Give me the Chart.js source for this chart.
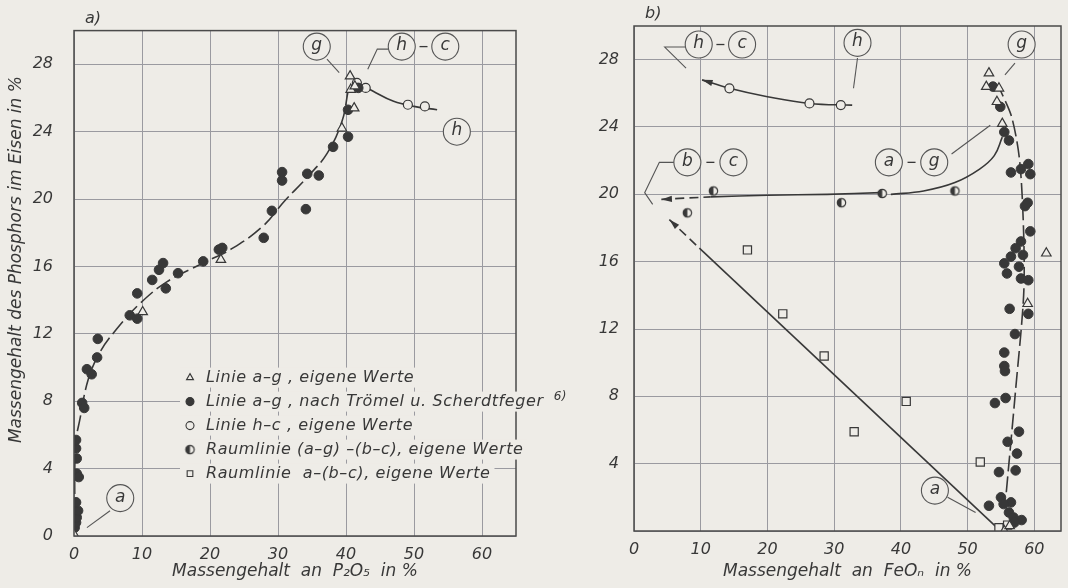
<!DOCTYPE html>
<html>
<head>
<meta charset="utf-8">
<script src="https://cdn.jsdelivr.net/npm/chart.js@4.4.1/dist/chart.umd.min.js"></script>
<style>
    body { margin: 0; background: #eeece7; }
    #wrap { position: relative; width: 1068px; height: 588px; overflow: hidden; }
    canvas { position: absolute; top: 0; }
    #chartA { left: 0; }
    #chartB { left: 534px; }
</style>
</head>
<body>
<div id="wrap">
    <canvas id="chartA" width="600" height="588"></canvas>
    <canvas id="chartB" width="534" height="588"></canvas>
</div>
<script>
// ---- data, panel a (x = P2O5 %, y = P in Fe %) ----
const aTriangles = [[0, 0.1], [10.1, 13.3], [21.6, 16.4], [39.4, 24.2], [41.2, 25.4], [40.7, 26.5], [41.3, 26.7], [40.6, 27.3]];
const aDots = [
    [0.1, 0.5], [0.3, 0.8], [0.4, 1.1], [0.6, 1.5], [0.3, 2.0], [0.4, 3.7], [0.7, 3.5], [0.4, 4.6], [0.3, 5.2], [0.3, 5.7],
    [1.2, 7.9], [1.5, 7.6], [1.9, 9.9], [2.6, 9.6], [3.4, 10.6], [3.5, 11.7], [8.2, 13.1], [9.3, 12.9], [9.3, 14.4],
    [11.5, 15.2], [12.5, 15.8], [13.1, 16.2], [13.5, 14.7], [15.3, 15.6], [19.0, 16.3], [21.3, 17.0], [21.8, 17.1],
    [27.9, 17.7], [29.1, 19.3], [30.6, 21.6], [30.6, 21.1], [34.1, 19.4], [34.3, 21.5], [36.0, 21.4], [38.1, 23.1],
    [40.3, 23.7], [40.3, 25.3], [41.8, 26.6]
];
const aRings = [[41.6, 26.9], [42.9, 26.6], [49.1, 25.6], [51.6, 25.5]];
const aLineAG = [[0.15, 0], [0.2, 5.3], [0.9, 7.0], [2.1, 9.3], [3.8, 10.9], [6.3, 12.3], [9.7, 13.8], [13.7, 15.1], [19, 16.2],
    [23.4, 17.1], [27.8, 18.4], [31, 19.9], [34.3, 21.3], [37.2, 22.7], [39.4, 24.6], [40.3, 26.4]];
const aLineHC = [[41.8, 26.9], [44, 26.4], [47, 25.8], [50, 25.5], [53.4, 25.3]];

// ---- data, panel b (x = FeOn %, y = P in Fe %) ----
const bTriangles = [[53.2, 27.2], [52.8, 26.4], [54.7, 26.3], [54.4, 25.5], [55.2, 24.2], [61.8, 16.5], [59.0, 13.5], [55.5, 0], [56.3, 0.3]];
const bDots = [
    [53.8, 26.4], [54.9, 25.2], [55.5, 23.7], [56.2, 23.2], [56.5, 21.3], [58.0, 21.5], [59.1, 21.8], [59.4, 21.2],
    [58.6, 19.3], [59.0, 19.5], [59.4, 17.8], [58.0, 17.2], [57.2, 16.8], [58.3, 16.4], [56.5, 16.3], [55.5, 15.9],
    [57.7, 15.7], [55.9, 15.3], [58.0, 15.0], [59.1, 14.9], [56.3, 13.2], [59.1, 12.9], [57.1, 11.7], [55.5, 10.6],
    [55.5, 9.8], [55.6, 9.5], [55.7, 7.9], [54.1, 7.6], [57.7, 5.9], [56.0, 5.3], [57.4, 4.6], [57.2, 3.6], [54.7, 3.5],
    [55.0, 2.0], [56.5, 1.7], [53.2, 1.5], [55.4, 1.6], [56.2, 1.1], [56.9, 0.8], [58.1, 0.65], [57.0, 0.5]
];
const bRings = [[14.3, 26.3], [26.3, 25.4], [31.0, 25.3]];
const bHalf = [[8.0, 18.9], [11.9, 20.2], [31.1, 19.5], [37.2, 20.05], [48.1, 20.2]];
const bSquares = [[17.0, 16.7], [22.3, 12.9], [28.5, 10.4], [33.0, 5.9], [40.8, 7.7], [51.9, 4.1], [54.7, 0.2], [56.0, 0.35]];
const bLineHC = [[10.2, 26.8], [14.3, 26.3], [20, 25.8], [26.3, 25.4], [32.7, 25.3]];
const bLineBC = [[4.1, 19.7], [11.5, 19.85], [20, 19.95], [29, 20.0], [37, 20.1]];
const bLineAGspace = [[38.5, 20.0], [43.4, 20.2], [48.1, 20.7], [51.8, 21.5], [54.0, 22.3], [55.2, 23.4]];
const bLineABC = [[5.3, 18.5], [9.8, 16.8], [54.4, 0.2]];
const bLineAG = [[55.8, 2.3], [57.2, 8.4], [58.4, 14], [58.4, 17.7], [57.8, 22], [56.6, 24.6], [54.9, 26.2]];

// ---- ticks and texts ----
const xTicks = [0, 10, 20, 30, 40, 50, 60];
const yTicks = [0, 4, 8, 12, 16, 20, 24, 28];
const legendLabels = [
    'Linie a–g , eigene Werte',
    'Linie a–g , nach Trömel u. Scherdtfeger',
    'Linie h–c , eigene Werte',
    'Raumlinie (a–g) –(b–c), eigene Werte',
    'Raumlinie  a–(b–c), eigene Werte'
];

const bg = '#eeece7';
const ink = '#383838';
const gridColor = '#9a9aa0';
const FONT = 'DejaVu Sans';

function halfDot(r) {
    const c = document.createElement('canvas');
    const s = Math.ceil(r * 2 + 4);
    c.width = c.height = s;
    const g = c.getContext('2d');
    g.beginPath();
    g.arc(s / 2, s / 2, r, 0, Math.PI * 2);
    g.fillStyle = bg;
    g.fill();
    g.beginPath();
    g.moveTo(s / 2, s / 2 - r);
    g.arc(s / 2, s / 2, r, -Math.PI / 2, Math.PI / 2, true);
    g.closePath();
    g.fillStyle = ink;
    g.fill();
    g.beginPath();
    g.arc(s / 2, s / 2, r, 0, Math.PI * 2);
    g.lineWidth = 1.2;
    g.strokeStyle = ink;
    g.stroke();
    return c;
}

const marker = {
    tri: { pointStyle: 'triangle', pointRadius: 5.5, pointBackgroundColor: bg, pointBorderColor: ink, pointBorderWidth: 1.2 },
    dot: { pointStyle: 'circle', pointRadius: 4.8, pointBackgroundColor: ink, pointBorderColor: ink, pointBorderWidth: 1 },
    ring: { pointStyle: 'circle', pointRadius: 4.5, pointBackgroundColor: bg, pointBorderColor: ink, pointBorderWidth: 1.2 },
    half: { pointStyle: halfDot(4.2), pointRadius: 4.5 },
    box: { pointStyle: 'rect', pointRadius: 5.8, pointBackgroundColor: bg, pointBorderColor: ink, pointBorderWidth: 1.2 }
};
const legendOrder = ['tri', 'dot', 'ring', 'half', 'box'];

function markers(data, kind) {
    return Object.assign({ data: data, showLine: false, pointHoverRadius: 0 }, marker[kind]);
}

function curve(data, opts) {
    return Object.assign({
        data: data,
        showLine: true,
        pointRadius: 0,
        borderColor: ink,
        borderWidth: 1.6,
        tension: 0.4
    }, opts || {});
}

const dashFirst = { segment: { borderDash: ctx => ctx.p0DataIndex === 0 ? [9, 5] : undefined } };

// draws frame, circled letters, leader lines, arrows, legend and loose texts
const decorPlugin = {
    id: 'decor',
    afterDatasetsDraw(chart, args, opts) {
        const ctx = chart.ctx;
        const area = chart.chartArea;
        const sx = chart.scales.x, sy = chart.scales.y;
        const px = v => sx.getPixelForValue(v);
        const py = v => sy.getPixelForValue(v);
        ctx.save();

        // frame
        ctx.strokeStyle = '#4a4a4a';
        ctx.lineWidth = 1.5;
        ctx.strokeRect(area.left, area.top, area.right - area.left, area.bottom - area.top);

        // arrows at line starts
        chart.data.datasets.forEach((ds, i) => {
            if (!ds.arrow) return;
            const pts = chart.getDatasetMeta(i).data;
            const a = pts[0], b = pts[1];
            const ang = Math.atan2(a.y - b.y, a.x - b.x);
            ctx.beginPath();
            ctx.moveTo(a.x, a.y);
            ctx.lineTo(a.x - 11 * Math.cos(ang - 0.28), a.y - 11 * Math.sin(ang - 0.28));
            ctx.lineTo(a.x - 11 * Math.cos(ang + 0.28), a.y - 11 * Math.sin(ang + 0.28));
            ctx.closePath();
            ctx.fillStyle = ink;
            ctx.fill();
        });

        // leader lines
        ctx.strokeStyle = '#555';
        ctx.lineWidth = 1.1;
        (opts.leaders || []).forEach(path => {
            ctx.beginPath();
            path.forEach((p, k) => k ? ctx.lineTo(px(p[0]), py(p[1])) : ctx.moveTo(px(p[0]), py(p[1])));
            ctx.stroke();
        });

        // circled letters
        ctx.font = 'italic 17px "' + FONT + '"';
        ctx.textAlign = 'center';
        ctx.textBaseline = 'middle';
        (opts.tags || []).forEach(t => {
            const x = px(t[0]), y = py(t[1]);
            ctx.beginPath();
            ctx.arc(x, y, 13.5, 0, Math.PI * 2);
            ctx.fillStyle = bg;
            ctx.fill();
            ctx.strokeStyle = '#555';
            ctx.lineWidth = 1.1;
            ctx.stroke();
            ctx.fillStyle = ink;
            ctx.fillText(t[2], x, y - 1);
        });
        // dashes between paired tags
        (opts.pairs || []).forEach(p => {
            const x = (px(p[0]) + px(p[1])) / 2, y = py(p[2]);
            ctx.beginPath();
            ctx.moveTo(x - 4, y);
            ctx.lineTo(x + 4, y);
            ctx.strokeStyle = ink;
            ctx.lineWidth = 1.3;
            ctx.stroke();
        });

        // panel letter
        ctx.textAlign = 'left';
        ctx.font = 'italic 16px "' + FONT + '"';
        ctx.fillStyle = ink;
        ctx.fillText(opts.panel, area.left + 11, area.top - 12);

        // y title
        if (opts.yTitle) {
            ctx.save();
            ctx.translate(17, area.top + 229);
            ctx.rotate(-Math.PI / 2);
            ctx.textAlign = 'center';
            ctx.font = 'italic 17px "' + FONT + '"';
            ctx.fillText(opts.yTitle, 0, 0);
            ctx.restore();
        }

        // legend
        if (opts.legend) {
            ctx.font = 'italic 16px "' + FONT + '"';
            ctx.letterSpacing = '0.6px';
            ctx.textAlign = 'left';
            const lx = area.left + 116, ly = area.top + 347, step = 24;
            legendLabels.forEach((txt, k) => {
                const y = ly + k * step;
                const w = ctx.measureText(txt).width;
                ctx.fillStyle = bg;
                ctx.fillRect(lx - 10, y - 10, w + 30, 20);
                const st = marker[legendOrder[k]];
                ctx.fillStyle = st.pointBackgroundColor || ink;
                ctx.strokeStyle = ink;
                ctx.lineWidth = 1.1;
                Chart.helpers.drawPoint(ctx, { pointStyle: st.pointStyle, radius: 4, borderWidth: 1.1 }, lx, y);
                ctx.fillStyle = ink;
                ctx.fillText(txt, lx + 16, y);
                if (k === 1) {
                    ctx.font = 'italic 12px "' + FONT + '"';
                    ctx.fillText('6)', lx + 16 + w + 10, y - 5);
                    ctx.font = 'italic 16px "' + FONT + '"';
                }
            });
        }
        ctx.restore();
    }
};

function makeScales(xMax, yAxisWidth, xAxisHeight, yPad, xTitle, hideZeroY) {
    const tickFont = { family: FONT, size: 16, style: 'italic' };
    return {
        x: {
            type: 'linear', min: 0, max: xMax,
            afterBuildTicks: s => { s.ticks = xTicks.map(v => ({ value: v })); },
            afterFit: s => { s.height = xAxisHeight; },
            grid: { color: gridColor, lineWidth: 1, drawTicks: false },
            border: { display: false },
            ticks: { font: tickFont, color: ink, padding: 9, maxRotation: 0 },
            title: { display: true, text: xTitle, font: { family: FONT, size: 17, style: 'italic' }, color: ink, padding: { top: 0, bottom: 6 } }
        },
        y: {
            type: 'linear', min: 0, max: 30,
            afterBuildTicks: s => { s.ticks = yTicks.map(v => ({ value: v })); },
            afterFit: s => { s.width = yAxisWidth; },
            grid: { color: gridColor, lineWidth: 1, drawTicks: false },
            border: { display: false },
            ticks: {
                font: tickFont, color: ink, padding: yPad,
                callback: v => (hideZeroY && v === 0) ? '' : v
            }
        }
    };
}

const baseOptions = {
    responsive: false,
    animation: false,
    events: [],
    plugins: { legend: { display: false }, tooltip: { enabled: false } }
};

new Chart(document.getElementById('chartA'), {
    type: 'scatter',
    data: {
        datasets: [
            markers(aTriangles, 'tri'),
            markers(aDots, 'dot'),
            markers(aRings, 'ring'),
            curve(aLineAG, { borderDash: [16, 5] }),
            curve(aLineHC)
        ]
    },
    options: Object.assign({}, baseOptions, {
        layout: { padding: { left: 0, right: 84, top: 29, bottom: 0 } },
        scales: makeScales(65, 74, 52, 21, 'Massengehalt  an  P₂O₅  in %', false),
        plugins: Object.assign({}, baseOptions.plugins, {
            decor: {
                panel: 'a)',
                yTitle: 'Massengehalt des Phosphors im Eisen in %',
                legend: true,
                tags: [[35.7, 29.05, 'g'], [48.2, 29.05, 'h'], [54.6, 29.05, 'c'], [56.3, 24.0, 'h'], [6.8, 2.25, 'a']],
                pairs: [[48.2, 54.6, 29.05]],
                leaders: [
                    [[37.2, 28.3], [39.0, 27.5]],
                    [[46.2, 28.9], [44.6, 28.9], [43.2, 27.7]],
                    [[5.3, 1.5], [1.9, 0.5]]
                ]
            }
        })
    }),
    plugins: [decorPlugin]
});

new Chart(document.getElementById('chartB'), {
    type: 'scatter',
    data: {
        datasets: [
            markers(bTriangles, 'tri'),
            markers(bDots, 'dot'),
            markers(bRings, 'ring'),
            markers(bHalf, 'half'),
            markers(bSquares, 'box'),
            curve(bLineHC, { arrow: true }),
            curve(bLineBC, Object.assign({ arrow: true, tension: 0.2 }, dashFirst)),
            curve(bLineAGspace),
            curve(bLineABC, Object.assign({ arrow: true, tension: 0 }, dashFirst)),
            curve(bLineAG, { borderDash: [16, 5], tension: 0.3 })
        ]
    },
    options: Object.assign({}, baseOptions, {
        layout: { padding: { left: 0, right: 0, top: 26, bottom: 0 } },
        scales: makeScales(64, 100, 57, 15, 'Massengehalt  an  FeOₙ  in %', true),
        plugins: Object.assign({}, baseOptions.plugins, {
            decor: {
                panel: 'b)',
                tags: [[9.7, 28.9, 'h'], [16.2, 28.9, 'c'], [8.0, 21.9, 'b'], [14.9, 21.9, 'c'], [33.5, 29.0, 'h'],
                    [58.1, 28.9, 'g'], [38.2, 21.9, 'a'], [45.0, 21.9, 'g'], [45.1, 2.4, 'a']],
                pairs: [[9.7, 16.2, 28.9], [8.0, 14.9, 21.9], [38.2, 45.0, 21.9]],
                leaders: [
                    [[7.7, 28.75], [4.6, 28.75], [7.8, 27.5]],
                    [[6.0, 21.9], [3.8, 21.9], [1.6, 20.1], [2.8, 19.4]],
                    [[33.5, 28.1], [32.9, 26.3]],
                    [[57.1, 27.8], [55.6, 27.1]],
                    [[47.6, 22.4], [53.4, 24.1]],
                    [[47.0, 2.0], [51.2, 1.1]]
                ]
            }
        })
    }),
    plugins: [decorPlugin]
});
</script>
</body>
</html>
